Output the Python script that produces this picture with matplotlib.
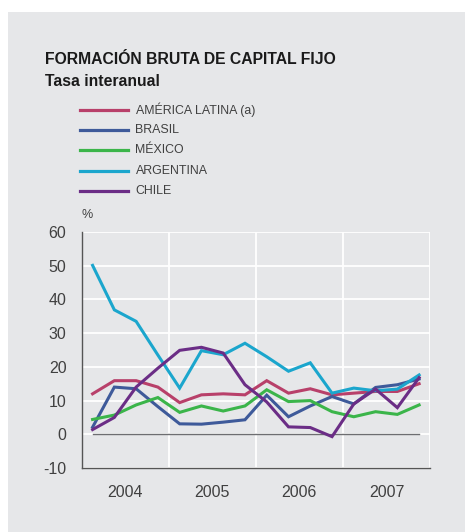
import matplotlib.pyplot as plt
import numpy as np
from matplotlib.patches import Rectangle
from matplotlib.lines import Line2D

plt.rcParams['font.family'] = ['Liberation Sans', 'DejaVu Sans']

# Data (quarterly, 2004Q1 - 2007Q4)
years = ['2004', '2005', '2006', '2007']
quarters = 2004 + (np.arange(16) + 0.5) / 4
america_latina = [12.0, 15.9, 15.9, 14.0, 9.4, 11.7, 12.0, 11.7, 15.9, 12.2, 13.5, 11.7, 12.2, 12.7, 12.7, 15.0]
brasil = [2.1, 14.0, 13.5, 8.2, 3.1, 3.0, 3.6, 4.3, 11.6, 5.2, 8.4, 11.2, 9.0, 13.9, 14.7, 16.4]
mexico = [4.4, 5.7, 8.7, 10.9, 6.5, 8.4, 6.9, 8.4, 13.2, 9.7, 10.0, 6.7, 5.2, 6.7, 5.9, 8.7]
argentina = [50.1, 36.9, 33.5, 23.5, 13.7, 24.8, 23.6, 27.0, 23.0, 18.7, 21.2, 12.2, 13.7, 12.9, 13.4, 17.6]
chile = [1.4, 5.0, 14.0, 19.6, 24.9, 25.8, 24.1, 14.7, 9.6, 2.2, 2.0, -0.7, 9.0, 13.4, 7.9, 16.8]

series = [
    ('AMÉRICA LATINA (a)', america_latina, '#b8406a'),
    ('BRASIL', brasil, '#3e5a9a'),
    ('MÉXICO', mexico, '#3bb54a'),
    ('ARGENTINA', argentina, '#1ba6cd'),
    ('CHILE', chile, '#6b2d86'),
]

bg = '#e6e7e9'
text_col = '#404040'

fig = plt.figure(figsize=(4.65, 5.32), dpi=100)
fig.patch.set_facecolor('white')
fig.patches.append(Rectangle((8 / 465, 0), 1, 1 - 12 / 532, transform=fig.transFigure,
                             facecolor=bg, edgecolor='none', zorder=-5))

ax = fig.add_axes([81.7 / 465, 64 / 532, (430 - 81.7) / 465, 236 / 532])
ax.set_zorder(2)
ax.set_facecolor(bg)

ax.set_xlim(2004, 2008)
ax.set_ylim(-10, 60)
ax.set_yticks(np.arange(-10, 61, 10))
ax.set_yticklabels([str(v) for v in range(-10, 61, 10)], fontsize=11.5, color=text_col)
ax.set_xticks([2004.5, 2005.5, 2006.5, 2007.5])
ax.set_xticklabels(years, fontsize=11.5, color=text_col)
ax.tick_params(length=0, pad=12)
ax.tick_params(axis='y', pad=11)

for y in range(-10, 61, 10):
    ax.axhline(y, color='white', lw=1.3, zorder=1)
for x in [2005, 2006, 2007, 2008]:
    ax.axvline(x, color='white', lw=1.3, zorder=1)

for s in ['top', 'right']:
    ax.spines[s].set_visible(False)
for s in ['left', 'bottom']:
    ax.spines[s].set_color('#555555')
    ax.spines[s].set_linewidth(1.0)

ax.plot(quarters, np.zeros(len(quarters)), color='#6d6e71', lw=1.0, zorder=2)

order = [0, 2, 1, 3, 4]
for i in order:
    name, vals, col = series[i]
    ax.plot(quarters, vals, color=col, lw=2.2, zorder=3 + i, solid_joinstyle='miter')

# Titles
fig.text(45 / 465, 1 - 59.5 / 532, 'FORMACIÓN BRUTA DE CAPITAL FIJO', fontsize=11.3,
         fontweight='bold', color='#1a1a1a', va='center')
fig.text(45 / 465, 1 - 81 / 532, 'Tasa interanual', fontsize=11.3,
         fontweight='bold', color='#1a1a1a', va='center')

# Legend
for k, (name, vals, col) in enumerate(series):
    yc = 1 - (110 + 20.2 * k) / 532
    fig.add_artist(Line2D([80 / 465, 128 / 465], [yc, yc], color=col, lw=2.3,
                          transform=fig.transFigure))
    fig.text(135.5 / 465, yc, name, fontsize=8.9, color=text_col, va='center')

fig.text(82 / 465, 1 - 215 / 532, '%', fontsize=9, color=text_col, va='center')

fig.savefig('out.png', dpi=100)
